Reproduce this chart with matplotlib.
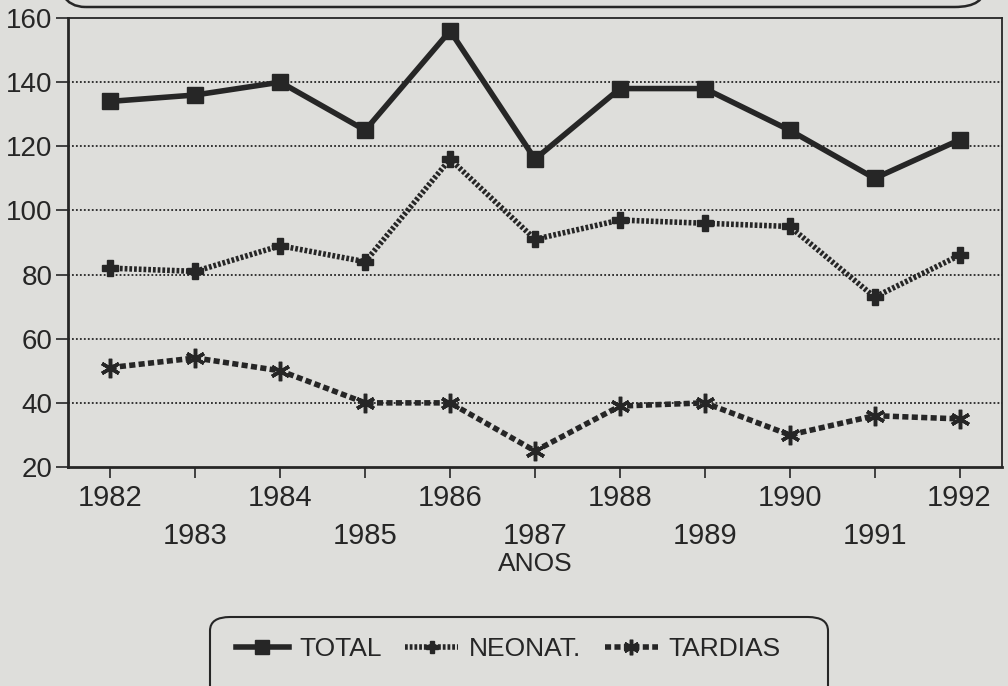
import numpy as np
import matplotlib.pyplot as plt
from matplotlib.patches import FancyBboxPatch

plt.rcParams['font.family'] = ['Liberation Sans', 'DejaVu Sans']

# data
anos = [1982, 1983, 1984, 1985, 1986, 1987, 1988, 1989, 1990, 1991, 1992]
total = [134, 136, 140, 125, 156, 116, 138, 138, 125, 110, 122]
neonat = [82, 81, 89, 84, 116, 91, 97, 96, 95, 73, 86]
tardias = [51, 54, 50, 40, 40, 25, 39, 40, 30, 36, 35]

ink = '#262626'
paper = '#dededb'

fig = plt.figure(figsize=(10.08, 6.86), dpi=100, facecolor=paper)
ax = fig.add_axes([68/1008, 1 - 467/686, (1002 - 68)/1008, (467 - 18)/686])
ax.set_facecolor(paper)

l1, = ax.plot(anos, total, color=ink, lw=4, marker='s', ms=12,
              label='TOTAL')
l2, = ax.plot(anos, neonat, color=ink, lw=4, ls=(0, (0.5, 0.35)),
              marker='P', ms=11, label='NEONAT.')
l3, = ax.plot(anos, tardias, color=ink, lw=4, ls=(0, (1.1, 0.6)),
              marker=(6, 2, 0), ms=14, mew=2.5, label='TARDIAS')

ax.set_xlim(1981.5, 1992.5)
ax.set_ylim(20, 160)
ax.set_yticks(range(20, 161, 20))
ax.set_xticks(anos)
ax.set_xticklabels([str(a) if a % 2 == 0 else '\n' + str(a) for a in anos],
                   linespacing=1.45)
ax.tick_params(axis='y', labelsize=20, colors=ink, length=9, width=1.2,
               direction='out', pad=2)
ax.tick_params(axis='x', labelsize=21, colors=ink, length=8, width=1.2,
               direction='out', pad=4)
ax.set_xlabel('ANOS', fontsize=19, color=ink, labelpad=2)

for y in range(40, 141, 20):
    ax.axhline(y, color=ink, lw=1.3, ls=(0, (1, 1.2)), zorder=0)

for s in ax.spines.values():
    s.set_color(ink)
    s.set_linewidth(1.3)
ax.spines['left'].set_linewidth(2)
ax.spines['bottom'].set_linewidth(2)

W, H = 1008, 686

# title box, mostly cut off at the top
top_box = FancyBboxPatch((55/W, 1 - 7/H), 930/W, 0.1,
                         boxstyle='round,pad=0,rounding_size=0.03',
                         transform=fig.transFigure, fc='none', ec=ink, lw=1.8)
fig.patches.append(top_box)

# legend box, cut off at the bottom
leg_box = FancyBboxPatch((210/W, -0.05), 618/W, (686 - 617)/H + 0.05,
                         boxstyle='round,pad=0,rounding_size=0.02',
                         transform=fig.transFigure, fc='none', ec=ink, lw=1.5)
fig.patches.append(leg_box)

leg = fig.legend(handles=[l1, l2, l3], loc='center', ncol=3,
                 bbox_to_anchor=(508/W, 1 - 649/H), frameon=False,
                 fontsize=19, handlelength=2.0, columnspacing=0.9,
                 handletextpad=0.4, markerscale=0.8)
for t in leg.get_texts():
    t.set_color(ink)

fig.savefig('out.png', dpi=100, facecolor=paper)
